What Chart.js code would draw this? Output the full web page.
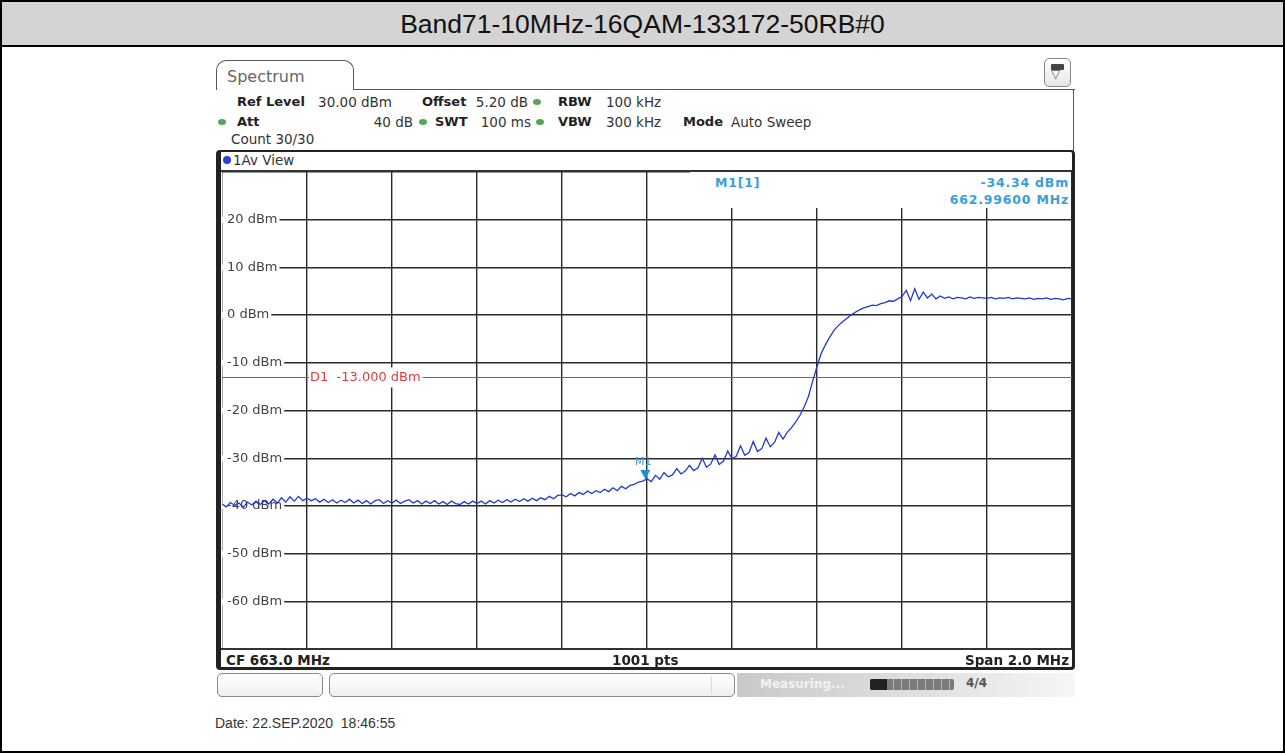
<!DOCTYPE html>
<html>
<head>
<meta charset="utf-8">
<title>Band71-10MHz-16QAM-133172-50RB#0</title>
<script src="https://cdn.jsdelivr.net/npm/chart.js@4.4.1/dist/chart.umd.min.js"></script>
<style>
  body { margin: 0; background: #fff; }
  #page { position: relative; width: 1285px; height: 753px; overflow: hidden;
          font-family: 'DejaVu Sans', sans-serif; color: #333; }
  #page div, #page span { position: absolute; box-sizing: border-box; white-space: nowrap; }
  #outer { left: 0; top: 0; width: 1285px; height: 753px; border: 2px solid #000; }
  #titlebar { left: 2px; top: 2px; width: 1281px; height: 45px; background: #d4d4d4;
              border-bottom: 2px solid #000; text-align: center;
              font: 26.5px 'Liberation Sans', Arial, sans-serif; line-height: 45px; color: #111; }
  .t  { font-size: 13.5px; line-height: 16px; color: #333; }
  .b  { font-size: 13px; line-height: 16px; font-weight: bold; color: #222; }
  .dot { width: 8px; height: 6px; border-radius: 50%; background: #52a852; }
  #tab { left: 216px; top: 60px; width: 138px; height: 30px; border: 1.5px solid #555;
         border-bottom: none; border-radius: 10px 10px 0 0; background: #fff; }
  #tab span { left: 10px; top: 6px; font-size: 16px; color: #666; }
  #frame { left: 216px; top: 150px; width: 859px; height: 520px; border: 2px solid #222;
           border-left-width: 5px; border-right-width: 3px; border-bottom-width: 3px; border-radius: 4px; }
  #plot { left: 222px; top: 172px; width: 850px; height: 477px; }
  .hl { height: 0; border-top: 2px solid #333; }
  .mk { font-size: 12.5px; font-weight: bold; color: #3a9ed8; letter-spacing: 0.8px; line-height: 16px; }
  .foot { font-size: 13.5px; font-weight: bold; color: #222; line-height: 18px; }
  .sbox { top: 673px; height: 24px; border: 1px solid #8a8a8a; border-radius: 5px;
          background: linear-gradient(#ffffff, #f0f0f0); }
</style>
</head>
<body>
<div id="page">
  <div id="outer"></div>
  <div id="titlebar">Band71-10MHz-16QAM-133172-50RB#0</div>

  <div id="tab"><span>Spectrum</span></div>
  <div class="hl" style="left:353px; top:89px; width:722px; border-top:1.5px solid #555;"></div>
  <div style="left:1073px; top:89px; width:0; height:62px; border-left:1.5px solid #555;"></div>

  <!-- soft key icon at the top right -->
  <div style="left:1044px; top:58px; width:27px; height:29px; border:1px solid #888; border-radius:5px; background:linear-gradient(#fff,#e6e6e6);"></div>
  <div style="left:1051px; top:64px; width:13px; height:6px; background:#444; border-radius:1px;"></div>
  <span style="left:1051px; top:67px; font-size:12px; color:#555;">▽</span>

  <!-- setting rows -->
  <span class="b" style="left:237px; top:94px;">Ref Level</span>
  <span class="t" style="right:893px; top:94px;">30.00 dBm</span>
  <span class="b" style="left:422px; top:94px;">Offset</span>
  <span class="t" style="right:757px; top:94px;">5.20 dB</span>
  <div class="dot" style="left:533px; top:99px;"></div>
  <span class="b" style="left:558px; top:94px;">RBW</span>
  <span class="t" style="left:606px; top:94px;">100 kHz</span>

  <div class="dot" style="left:218px; top:119px;"></div>
  <span class="b" style="left:237px; top:114px;">Att</span>
  <span class="t" style="right:872px; top:114px;">40 dB</span>
  <div class="dot" style="left:419px; top:119px;"></div>
  <span class="b" style="left:435px; top:114px;">SWT</span>
  <span class="t" style="right:754px; top:114px;">100 ms</span>
  <div class="dot" style="left:536px; top:119px;"></div>
  <span class="b" style="left:558px; top:114px;">VBW</span>
  <span class="t" style="left:606px; top:114px;">300 kHz</span>
  <span class="b" style="left:683px; top:114px;">Mode</span>
  <span class="t" style="left:731px; top:114px;">Auto Sweep</span>

  <span class="t" style="left:231px; top:131px;">Count 30/30</span>

  <!-- trace window -->
  <div id="frame"></div>
  <div style="left:223px; top:156px; width:8px; height:8px; border-radius:50%; background:#2a3fd8;"></div>
  <span class="t" style="left:233px; top:152px;">1Av View</span>
  <div class="hl" style="left:221px; top:170px; width:851px;"></div>

  <div id="plot"><canvas id="spectrum" width="850" height="477"></canvas></div>

  <!-- marker readout -->
  <div style="left:690px; top:172px; width:381px; height:36px; background:#fff;"></div>
  <span class="mk" id="mName" style="left:715px; top:175px;"></span>
  <span class="mk" id="mLevel" style="right:216px; top:175px;"></span>
  <span class="mk" id="mFreq" style="right:216px; top:192px;"></span>

  <div class="hl" style="left:221px; top:648px; width:851px;"></div>
  <span class="foot" id="cfText" style="left:226px; top:651px;"></span>
  <span class="foot" id="ptsText" style="left:612px; top:651px;"></span>
  <span class="foot" id="spanText" style="right:216px; top:651px;"></span>

  <!-- status bar -->
  <div class="sbox" style="left:217px; width:106px;"></div>
  <div class="sbox" style="left:329px; width:406px;"></div>
  <div style="left:711px; top:676px; width:1px; height:18px; background:#ddd;"></div>
  <div style="left:737px; top:673px; width:338px; height:24px; background:linear-gradient(90deg,#c9c9c9,#e2e2e2 60%,#f6f6f6);"></div>
  <span style="left:760px; top:677px; font-size:12px; color:#f2f2f2; font-weight:bold;">Measuring...</span>
  <div style="left:870px; top:679px; width:84px; height:11px; background:repeating-linear-gradient(90deg,#7a7a7a 0 7px,#b0b0b0 7px 8px); border-radius:2px;"></div>
  <div style="left:870px; top:679px; width:17px; height:11px; background:#222; border-radius:2px 0 0 2px;"></div>
  <span style="left:966px; top:676px; font-size:12px; font-weight:bold; color:#555;">4/4</span>

  <span style="left:215px; top:715px; font:14px 'Liberation Sans', Arial, sans-serif; color:#333;">Date: 22.SEP.2020&nbsp; 18:46:55</span>
</div>

<script>
// sweep settings
const startFreq = 662.0;   // MHz
const stopFreq = 664.0;    // MHz
const centerFreq = 663.0;
const sweepPoints = 1001;
const freqStep = 0.01;     // spacing of the stored trace samples, MHz

// averaged trace, dBm, one value per 10 kHz from 662.00 MHz
const traceLevels = [
  -39.6, -40.2, -39.3, -39.9, -39.4, -40.3, -39.2, -39.8, -39.0, -39.7,
  -38.9, -39.6, -38.6, -39.4, -38.3, -39.2, -38.1, -39.0, -38.0, -38.9,
  -38.4, -38.9, -38.5, -39.2, -38.6, -39.3, -38.7, -39.4, -38.8, -39.3,
  -38.6, -39.4, -38.8, -39.5, -38.9, -39.6, -38.9, -38.7, -39.5, -38.9,
  -39.4, -38.8, -39.5, -39.0, -38.7, -39.4, -38.9, -39.6, -39.0, -39.5,
  -38.9, -39.6, -39.1, -39.7, -39.0, -39.5, -39.7, -39.1, -39.6, -39.0,
  -39.5, -39.0, -39.6, -38.9, -39.4, -38.8, -39.3, -38.7, -39.2, -38.6,
  -39.1, -38.5, -39.0, -38.4, -38.9, -38.3, -38.7, -38.0, -38.5, -37.8,
  -37.7, -38.1, -37.4, -37.9, -37.2, -37.6, -36.9, -37.4, -36.8, -37.2,
  -36.5, -37.0, -36.2, -36.8, -35.9, -36.4, -35.7, -35.5, -35.0, -34.8,
  -34.3, -34.9, -33.6, -34.4, -33.0, -33.9, -33.5, -32.2, -33.3, -32.7,
  -31.5, -32.6, -32.0, -30.0, -31.9, -31.2, -29.3, -31.3, -30.6, -28.5,
  -30.1, -29.6, -27.4, -29.4, -28.8, -26.5, -28.6, -28.0, -25.8, -27.6,
  -26.7, -24.6, -26.0, -24.6, -23.6, -22.4, -21.0, -19.2, -17.0, -13.8,
  -10.8, -8.0, -6.2, -4.6, -3.2, -2.2, -1.4, -0.7, 0.0, 0.6,
  1.1, 1.5, 1.8, 2.1, 2.0, 2.4, 2.6, 3.0, 2.9, 3.4,
  3.9, 5.2, 3.0, 5.5, 3.3, 4.8, 3.6, 4.4, 3.4, 4.0,
  3.5, 3.8, 3.4, 3.7, 3.6, 3.4, 3.8, 3.5, 3.7, 3.6,
  3.5, 3.7, 3.4, 3.6, 3.5, 3.7, 3.4, 3.6, 3.5, 3.4,
  3.6, 3.3, 3.5, 3.4, 3.6, 3.3, 3.5, 3.4, 3.2, 3.5,
  3.4
];

// level axis labels and the D1 limit line
const levelTicks = [20, 10, 0, -10, -20, -30, -40, -50, -60];
const refLevel = 30;
const bottomLevel = -70;
const displayLine = -13.0;

// marker M1
const markerName = 'M1';
const markerFreq = 662.996;
const markerLevel = -34.34;

const tracePoints = traceLevels.map((v, i) => ({ x: startFreq + i * freqStep, y: v }));

document.getElementById('mName').textContent = markerName + '[1]';
document.getElementById('mLevel').textContent = markerLevel.toFixed(2) + ' dBm';
document.getElementById('mFreq').textContent = markerFreq.toFixed(5) + ' MHz';
document.getElementById('cfText').textContent = 'CF ' + centerFreq.toFixed(1) + ' MHz';
document.getElementById('ptsText').textContent = sweepPoints + ' pts';
document.getElementById('spanText').textContent = 'Span ' + (stopFreq - startFreq).toFixed(1) + ' MHz';

// dBm labels sit inside the grid on a white patch, D1 line runs under the trace
const levelLabels = {
  id: 'levelLabels',
  beforeDatasetsDraw(chart) {
    const { ctx, chartArea, scales: { x, y } } = chart;
    ctx.save();
    ctx.font = '13px "DejaVu Sans"';
    ctx.textBaseline = 'middle';
    levelTicks.forEach(v => {
      const py = y.getPixelForValue(v);
      const txt = v + ' dBm';
      const w = ctx.measureText(txt).width;
      ctx.fillStyle = '#fff';
      ctx.fillRect(chartArea.left, py - 3, w + 7, 6);
      ctx.fillStyle = '#444';
      ctx.fillText(txt, chartArea.left + 5, py);
    });

    const dy = Math.round(y.getPixelForValue(displayLine)) + 0.5;
    ctx.strokeStyle = '#e8343a';
    ctx.lineWidth = 1;
    ctx.beginPath();
    ctx.moveTo(chartArea.left, dy);
    ctx.lineTo(chartArea.right, dy);
    ctx.stroke();

    const dTxt = 'D1  ' + displayLine.toFixed(3) + ' dBm';
    const lx = x.getPixelForValue(662.2) + 3;
    const dw = ctx.measureText(dTxt).width;
    ctx.fillStyle = '#fff';
    ctx.fillRect(lx - 1, dy - 10, dw + 3, 20);
    ctx.fillStyle = '#e03c3c';
    ctx.fillText(dTxt, lx, dy);
    ctx.restore();
  },
  afterDatasetsDraw(chart) {
    const { ctx, scales: { x, y } } = chart;
    const px = x.getPixelForValue(markerFreq);
    const py = y.getPixelForValue(markerLevel);
    ctx.save();
    ctx.fillStyle = '#1e8fd0';
    ctx.beginPath();
    ctx.moveTo(px, py);
    ctx.lineTo(px - 5, py - 9);
    ctx.lineTo(px + 5, py - 9);
    ctx.closePath();
    ctx.fill();
    ctx.font = '11px "DejaVu Sans"';
    ctx.textAlign = 'center';
    ctx.textBaseline = 'middle';
    ctx.fillStyle = '#3a9ed8';
    ctx.fillText(markerName, px - 2, py - 17);
    ctx.restore();
  }
};

new Chart(document.getElementById('spectrum'), {
  type: 'line',
  data: {
    datasets: [{
      data: tracePoints,
      borderColor: 'rgb(35,55,215)',
      borderWidth: 1.3,
      pointRadius: 0,
      tension: 0
    }]
  },
  options: {
    responsive: false,
    animation: false,
    layout: { padding: 0 },
    plugins: { legend: { display: false }, tooltip: { enabled: false } },
    scales: {
      x: {
        type: 'linear',
        min: startFreq,
        max: stopFreq,
        ticks: { display: false, stepSize: 0.2 },
        grid: { color: '#2a2a2a', lineWidth: 1.4, drawTicks: false },
        border: { display: false }
      },
      y: {
        min: bottomLevel,
        max: refLevel,
        ticks: { display: false, stepSize: 10 },
        grid: { color: '#2a2a2a', lineWidth: 1.4, drawTicks: false },
        border: { display: false }
      }
    }
  },
  plugins: [levelLabels]
});
</script>
</body>
</html>
